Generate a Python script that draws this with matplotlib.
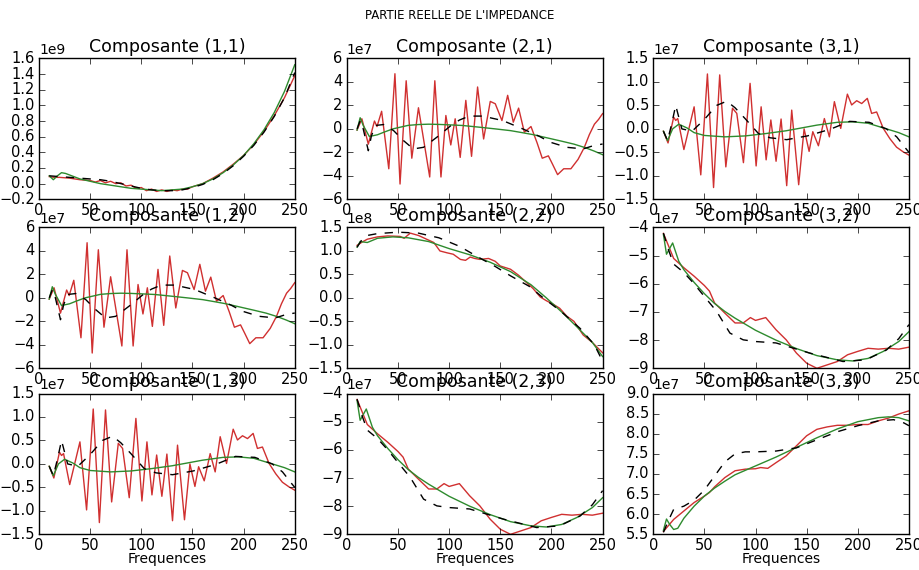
import matplotlib
matplotlib.use('Agg')
import matplotlib.pyplot as plt
import numpy as np

plt.style.use('classic')
plt.rcParams['figure.facecolor'] = 'white'
plt.rcParams['savefig.facecolor'] = 'white'
plt.rcParams['font.family'] = ['DejaVu Sans']

#~~~~~~~~~~~~~~~~~~
# DATA
#~~~~~~~~~~~~~~~~~~

# Composante (1,1), units of 1e9
f11_r = [10, 15, 20, 30, 40, 50, 55, 60, 65, 70, 75, 80, 85, 90, 95, 100, 105, 110, 115, 120,
         125, 130, 135, 140, 145, 150, 160, 170, 180, 190, 200, 210, 220, 230, 240, 250]
r11 = [0.09, 0.08, 0.08, 0.07, 0.05, 0.04, 0.02, 0.04, 0.01, 0.03, 0.0, 0.01, -0.03, -0.02, -0.06,
       -0.05, -0.09, -0.07, -0.1, -0.08, -0.1, -0.08, -0.09, -0.07, -0.07, -0.04, 0.0, 0.07, 0.15,
       0.25, 0.36, 0.5, 0.67, 0.87, 1.1, 1.38]
f11_g = [10, 14, 18, 22, 26, 30, 40, 50, 60, 70, 80, 90, 100, 110, 120, 130, 140, 150, 160, 170,
         180, 190, 200, 210, 220, 230, 240, 250]
g11 = [0.1, 0.05, 0.1, 0.14, 0.13, 0.11, 0.06, 0.03, 0.0, -0.02, -0.04, -0.06, -0.07, -0.08, -0.09,
       -0.08, -0.07, -0.04, 0.0, 0.06, 0.14, 0.24, 0.36, 0.51, 0.69, 0.91, 1.18, 1.52]
f11_k = [10, 20, 30, 40, 50, 60, 70, 80, 90, 100, 110, 120, 130, 140, 150, 160, 170, 180, 190,
         200, 210, 220, 230, 240, 250]
k11 = [0.1, 0.09, 0.08, 0.07, 0.06, 0.05, 0.03, 0.0, -0.03, -0.06, -0.08, -0.09, -0.09, -0.08,
       -0.05, -0.01, 0.05, 0.13, 0.23, 0.35, 0.49, 0.66, 0.86, 1.1, 1.42]

# Composante (2,1) = (1,2), units of 1e7
f21_r = [10, 14.7, 21, 27, 29.5, 34, 41, 47, 52, 58, 63.5, 70, 81, 86, 92, 96.8, 101.6, 105.9,
         110.8, 116.3, 121.9, 127.8, 133.7, 140.2, 145.1, 151.6, 157.2, 162.7, 167.9, 173.5, 180,
         186, 191, 197, 201, 206, 212, 219, 226, 232, 237, 242, 246, 250]
r21 = [-0.1, 0.86, -1.3, 0.67, 0.2, 1.5, -3.4, 4.7, -4.7, 4.1, -2.5, 1.8, -4.1, 4.1, -4.1, 1.14,
       -1.37, 0.86, -2.43, 2.43, -2.34, 3.57, -0.86, 2.34, 2.14, 0.71, 2.86, 0.57, 1.77, -0.29, 0.2,
       -1.2, -2.5, -2.3, -3.0, -3.9, -3.4, -3.4, -2.6, -1.6, -0.5, 0.4, 0.8, 1.3]
f21_g = [10, 13, 16, 22, 30, 36, 45, 52, 60, 70, 80, 90, 101, 113, 130, 145, 160, 170, 182, 195,
         210, 222, 233, 242, 250]
g21 = [-0.1, 0.95, 0.3, -0.65, -0.5, -0.29, 0.0, 0.14, 0.3, 0.37, 0.4, 0.38, 0.34, 0.29, 0.14,
       0.0, -0.15, -0.3, -0.49, -0.75, -1.05, -1.3, -1.6, -1.9, -2.2]
f21_k = [10, 13, 16, 21, 24, 28, 36, 45.6, 55.4, 65, 75, 88, 101, 110, 119.6, 132.7, 152.3, 171.9,
         188, 199, 215, 231, 241, 250]
k21 = [0.0, 0.7, 0.0, -1.86, -0.6, 0.29, 0.37, -0.14, -1.0, -1.71, -1.57, -0.71, 0.23, 0.75, 1.09,
       1.09, 0.71, 0.0, -0.63, -1.14, -1.57, -1.71, -1.43, -1.29]

# Composante (3,1) = (1,3), units of 1e7
f31_r = [10, 14.5, 20, 22, 24, 30, 40, 46.5, 53, 59, 65, 71, 77.5, 81.7, 88.2, 94.7, 100.6, 105.5,
         110.4, 115, 120.1, 125, 130.5, 135.4, 142.2, 147.5, 152.4, 156, 161.5, 167.3, 172.2,
         177.1, 183.3, 189.8, 194, 198.9, 203.8, 209.3, 213.5, 218.4, 224.9, 231.4, 237.9, 244.4,
         250]
r31 = [-0.05, -0.3, 0.25, 0.18, 0.22, -0.44, 0.47, -0.98, 1.17, -1.25, 1.15, -0.81, 0.44, 0.33,
       -0.72, 0.97, -0.79, 0.47, -0.66, 0.19, -0.69, 0.21, -1.21, 0.4, -1.19, 0.0, -0.48, -0.06,
       -0.36, 0.22, -0.17, 0.58, 0.01, 0.74, 0.51, 0.6, 0.54, 0.65, 0.33, 0.36, 0.01, -0.21, -0.39,
       -0.49, -0.56]
f31_g = [10, 14, 19, 25, 33, 40, 50, 70, 90, 110, 130, 140, 160, 180, 195, 210, 228, 240, 250]
g31 = [-0.05, -0.25, 0.0, 0.1, 0.02, -0.08, -0.14, -0.17, -0.15, -0.1, -0.04, 0.0, 0.08, 0.14,
       0.15, 0.12, 0.0, -0.08, -0.17]
f31_k = [10, 14, 18, 22, 28, 38, 50, 62, 71.9, 80, 89.8, 102.9, 114.3, 130.5, 150.7, 172.8, 192,
         211, 228, 238, 247, 250]
k31 = [-0.05, -0.25, 0.1, 0.5, 0.0, -0.05, 0.2, 0.5, 0.59, 0.45, 0.22, -0.1, -0.19, -0.23, -0.15,
       -0.01, 0.16, 0.14, 0.0, -0.17, -0.42, -0.5]

# Composante (2,2), units of 1e8
f22_r = [10, 15, 20, 30, 40, 52, 56, 62, 70, 85, 91, 98, 104, 111, 116, 120.6, 125, 130, 138.5,
         145, 150, 160, 168, 176, 182, 189, 195, 202, 208, 215, 222, 231, 240, 250]
r22 = [1.12, 1.19, 1.25, 1.3, 1.32, 1.31, 1.27, 1.38, 1.33, 1.18, 1.0, 0.96, 0.93, 0.82, 0.8, 0.87,
       0.84, 0.82, 0.84, 0.78, 0.68, 0.61, 0.48, 0.32, 0.2, 0.02, -0.06, -0.14, -0.22, -0.39, -0.5,
       -0.79, -0.95, -1.17]
f22_g = [10, 13, 20, 30, 45, 60, 80, 100, 120, 130, 140, 160, 180, 195, 210, 225, 240, 250]
g22 = [1.08, 1.2, 1.18, 1.27, 1.3, 1.28, 1.2, 1.05, 0.92, 0.84, 0.76, 0.56, 0.28, 0.0, -0.3,
       -0.62, -0.95, -1.25]
f22_k = [10, 15, 20, 30, 50, 70, 90, 110, 130, 145, 160, 178, 192, 210, 228, 242, 250]
k22 = [1.08, 1.25, 1.33, 1.37, 1.4, 1.38, 1.28, 1.1, 0.85, 0.67, 0.47, 0.25, 0.0, -0.3, -0.65,
       -1.0, -1.35]

# Composante (3,2) = (2,3), units of 1e7
f32_r = [10, 20, 30, 40, 50, 55, 60, 70, 80, 88, 95, 100, 105, 110, 120, 130, 140, 150, 160, 170,
         180, 190, 200, 210, 220, 230, 240, 250]
r32 = [-4.21, -5.1, -5.43, -5.73, -6.06, -6.26, -6.68, -7.04, -7.39, -7.39, -7.2, -7.3, -7.25,
       -7.2, -7.63, -7.99, -8.46, -8.82, -9.0, -8.88, -8.76, -8.52, -8.4, -8.29, -8.32, -8.29,
       -8.32, -8.25]
f32_g = [10, 13, 19, 25, 30, 40, 50, 60, 70, 80, 100, 120, 140, 160, 180, 195, 210, 225, 240, 250]
g32 = [-4.25, -4.95, -4.55, -5.2, -5.5, -5.95, -6.35, -6.7, -6.98, -7.22, -7.65, -8.0, -8.3,
       -8.55, -8.7, -8.74, -8.65, -8.4, -8.05, -7.7]
f32_k = [10, 15, 20, 30, 40, 50, 62, 75, 88, 100, 120, 153, 185.5, 208, 228, 240, 250]
k32 = [-4.2, -4.8, -5.3, -5.6, -6.0, -6.45, -6.98, -7.75, -7.99, -8.05, -8.1, -8.46, -8.76, -8.7,
       -8.35, -7.95, -7.45]

# Composante (3,3), units of 1e7
f33_r = [10, 20, 30, 40, 50, 55, 60, 70, 80, 90, 100, 105, 112, 120, 130, 140, 150, 160, 170, 180,
         190, 200, 210, 220, 230, 240, 250]
r33 = [5.57, 5.87, 6.08, 6.29, 6.45, 6.54, 6.68, 6.91, 7.08, 7.12, 7.13, 7.16, 7.14, 7.28, 7.45,
       7.7, 7.95, 8.11, 8.17, 8.21, 8.21, 8.23, 8.23, 8.32, 8.39, 8.49, 8.57]
f33_g = [10, 13, 16, 20, 24, 30, 40, 50, 60, 70, 80, 100, 120, 140, 160, 180, 200, 220, 230, 240,
         250]
g33 = [5.6, 5.88, 5.75, 5.62, 5.65, 5.9, 6.2, 6.45, 6.65, 6.82, 6.98, 7.2, 7.42, 7.66, 7.9, 8.12,
       8.3, 8.4, 8.42, 8.4, 8.32]
f33_k = [10, 15, 20, 30, 40, 50, 60, 70, 80, 90, 100, 120, 140, 160, 180, 200, 220, 235, 245, 250]
k33 = [5.55, 5.85, 6.12, 6.2, 6.35, 6.6, 6.95, 7.3, 7.5, 7.55, 7.55, 7.57, 7.65, 7.85, 8.05, 8.2,
       8.32, 8.35, 8.27, 8.2]

# unique components: (scale, ylim, ytick step, curves)
comps = {
    (1, 1): (1e9, (-0.2, 1.6), 0.2, (f11_r, r11), (f11_g, g11), (f11_k, k11)),
    (2, 1): (1e7, (-6, 6), 2, (f21_r, r21), (f21_g, g21), (f21_k, k21)),
    (3, 1): (1e7, (-1.5, 1.5), 0.5, (f31_r, r31), (f31_g, g31), (f31_k, k31)),
    (2, 2): (1e8, (-1.5, 1.5), 0.5, (f22_r, r22), (f22_g, g22), (f22_k, k22)),
    (3, 2): (1e7, (-9, -4), 1, (f32_r, r32), (f32_g, g32), (f32_k, k32)),
    (3, 3): (1e7, (5.5, 9.0), 0.5, (f33_r, r33), (f33_g, g33), (f33_k, k33)),
}

#~~~~~~~~~~
# PLOTTING
#~~~~~~~~~~

fig = plt.figure(figsize=(9.2, 5.7))
fig.suptitle("PARTIE REELLE DE L'IMPEDANCE", fontsize=8.5, y=0.985)

lefts = [0.0424, 0.377, 0.710]
bottoms = [0.6504, 0.3539, 0.0626]
w, h = 0.278, 0.247

for row in range(3):
    for col in range(3):
        i, j = col + 1, row + 1
        key = (max(i, j), min(i, j))
        scale, ylim, step, red, green, black = comps[key]
        ax = fig.add_axes([lefts[col], bottoms[row], w, h])
        ax.plot(np.array(red[0]), np.array(red[1]) * scale, '-', color='#d03030', lw=1.0)
        ax.plot(np.array(green[0]), np.array(green[1]) * scale, '-', color='#2e8b2e', lw=1.0)
        ax.plot(np.array(black[0]), np.array(black[1]) * scale, '--', color='k', lw=1.0)
        ax.set_xlim(0, 250)
        ax.set_xticks(np.arange(0, 251, 50))
        ax.set_ylim(ylim[0] * scale, ylim[1] * scale)
        ax.set_yticks(np.arange(ylim[0], ylim[1] + step / 2, step) * scale)
        ax.ticklabel_format(axis='y', style='sci', scilimits=(0, 0), useOffset=False)
        ax.yaxis.get_offset_text().set_fontsize(10)
        ax.tick_params(labelsize=10.5, direction='in', top=True, right=True, pad=3)
        ax.set_title('Composante (%d,%d)' % (i, j), fontsize=12.5)
        if row == 2:
            ax.set_xlabel('Frequences', fontsize=10, labelpad=-1)

plt.savefig('out.png', dpi=100, facecolor='white')
